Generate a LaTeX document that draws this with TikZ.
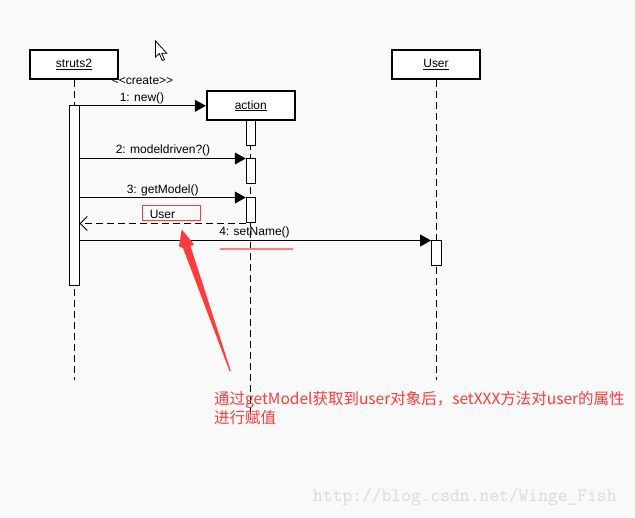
\documentclass[tikz,border=0pt]{standalone}
\usepackage{fontspec}
\setmainfont{Liberation Sans}
\newfontfamily\cjkfont{Noto Sans CJK SC}
\usetikzlibrary{arrows.meta}
\definecolor{bg}{HTML}{F9F9F9}
\definecolor{annot}{HTML}{FF3B3B}
\definecolor{pinkline}{HTML}{FF7F7F}
\definecolor{wm}{HTML}{DADADA}
\begin{document}
\begin{tikzpicture}[x=1pt,y=-1pt,
 obj/.style={draw, line width=2pt, fill=white, minimum width=88pt, minimum height=29pt, inner sep=0pt, font=\fontsize{12}{14}\selectfont},
 lifeline/.style={dash pattern=on 7pt off 4pt, line width=1pt},
 actbar/.style={draw, fill=white, line width=1pt, minimum width=9.5pt, minimum height=25pt, inner sep=0pt},
 msg/.style={line width=1pt, -{Triangle[length=11pt,width=12pt]}},
 ret/.style={line width=1pt, dash pattern=on 7pt off 4pt, -{Straight Barb[length=7pt,width=14pt]}},
 lbl/.style={font=\fontsize{12}{14}\selectfont, inner sep=0pt}]
\fill[bg] (0,0) rectangle (635,518);
\useasboundingbox (0,0) rectangle (635,518);

% objects
\node[obj] (struts2) at (74,64.8) {\underline{struts2}};
\node[obj] (action) at (250.8,105.8) {\underline{action}};
\node[obj] (user) at (436,64.8) {\underline{User}};

% lifeline ends
\coordinate (s2end) at (74,380);
\coordinate (acend) at (250.8,420);
\coordinate (usend) at (436,380);
\draw[lifeline] (struts2.south) -- (s2end);
\draw[lifeline] (action.south) -- (acend);
\draw[lifeline] (user.south) -- (usend);

% activation bars
\node[actbar, minimum height=180pt] (sact) at (74.3,196) {};
\node[actbar] (a1) at (251,133.5) {};
\node[actbar] (a2) at (251,171.5) {};
\node[actbar] (a3) at (251,210.5) {};
\node[actbar] (u1) at (436.3,253.5) {};

% messages
\draw[msg] (sact.east |- action.west) -- (action.west);
\draw[msg] (sact.east |- a2.north) -- (a2.north west);
\draw[msg] (sact.east |- a3.north) -- (a3.north west);
\draw[ret] (a3.south west) -- (sact.east |- a3.south);
\draw[msg] (sact.east |- u1.north) -- (u1.north west);

% labels
\node[lbl] (lcreate) at (142.5,80.5) {\symbol{60}\symbol{60}create\symbol{62}\symbol{62}};
\node[lbl] (l1) at (142,98) {1: new()};
\node[lbl] (l2) at (163,150.5) {2: modeldriven?()};
\node[lbl] (l3) at (162.7,190) {3: getModel()};
\node[lbl] (l4) at (254.5,232) {4: setName()};

% red annotation box
\node[draw=annot, line width=1pt, minimum width=58pt, minimum height=15pt, inner sep=0pt] (retbox) at (171.5,212.8) {};
\node[lbl] (lret) at (162.5,214) {User};

% pink underline
\draw[draw=pinkline, line width=2pt] (220,249.3) -- (293,249.3);

% red annotation arrow
\fill[annot] (181.7,229.3) -- (194,244.5) -- (190.5,246) -- (230.8,371) -- (229.5,371) -- (183,248) -- (179,246.5) -- cycle;

% annotation text
\node[anchor=west, inner sep=0pt, text=annot, font=\cjkfont\fontsize{15.5}{19}\selectfont, align=left] (note) at (214,408.5)
 {通过getModel获取到user对象后，setXXX方法对user的属性\\进行赋值};

% mouse cursor
\begin{scope}[shift={(155.5,41)}]
\filldraw[fill=white, draw=black, line width=0.8pt, line join=miter]
 (0,0) -- (0,16) -- (3.8,12.6) -- (6.8,19.5) -- (9,18.5) -- (6.2,12.3) -- (11.3,12.3) -- cycle;
\end{scope}

% watermark
\node[anchor=west, inner sep=0pt, text=wm, font=\ttfamily\fontsize{19}{22}\selectfont] (wmark) at (313,497) {http://blog.csdn.net/Winge\_Fish};
\end{tikzpicture}
\end{document}
